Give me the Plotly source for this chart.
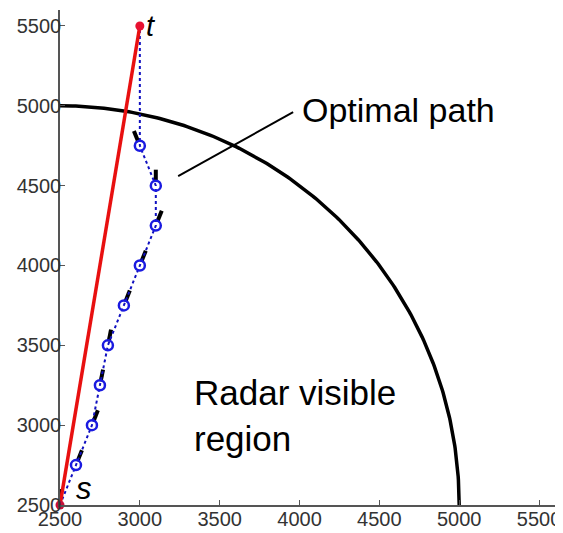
import numpy as np
import plotly.graph_objects as go

# Data
path_x = [2500, 2600, 2700, 2750, 2800, 2900, 3000, 3100, 3100, 3000, 3000]
path_y = [2500, 2750, 3000, 3250, 3500, 3750, 4000, 4250, 4500, 4750, 5500]
direct_x = [2500, 3000]
direct_y = [2500, 5500]
radar_center = (2500, 2500)
radar_radius = 2500
tick_vals = [2500, 3000, 3500, 4000, 4500, 5000, 5500]

fig = go.Figure()

# radar arc
th = np.linspace(0, np.pi / 2, 200)
fig.add_trace(go.Scatter(x=radar_center[0] + radar_radius * np.cos(th),
                         y=radar_center[1] + radar_radius * np.sin(th),
                         mode="lines", line=dict(color="black", width=3.5),
                         hoverinfo="skip"))

# heading ticks (incoming direction at each waypoint)
hx, hy = [], []
for i in range(len(path_x) - 1):
    if i == 0:
        dx, dy = 0.05, 1.0
    else:
        dx, dy = path_x[i] - path_x[i - 1], path_y[i] - path_y[i - 1]
    n = np.hypot(dx, dy)
    ux, uy = dx / n, dy / n
    a, b = (25, 100) if i > 0 else (40, 100)
    hx += [path_x[i] + a * ux, path_x[i] + b * ux, None]
    hy += [path_y[i] + a * uy, path_y[i] + b * uy, None]
fig.add_trace(go.Scatter(x=hx, y=hy, mode="lines",
                         line=dict(color="black", width=4), hoverinfo="skip"))

# optimal path (dotted blue)
fig.add_trace(go.Scatter(x=path_x, y=path_y, mode="lines",
                         line=dict(color="#1010c0", width=2, dash="dot"),
                         hoverinfo="skip"))
fig.add_trace(go.Scatter(x=path_x[1:-1], y=path_y[1:-1], mode="markers",
                         marker=dict(symbol="circle-open", size=10, color="#1a1ae0",
                                     line=dict(color="#1a1ae0", width=2.5)),
                         hoverinfo="skip"))

# direct path (red)
fig.add_trace(go.Scatter(x=direct_x, y=direct_y, mode="lines+markers",
                         line=dict(color="#e81010", width=3.5),
                         marker=dict(color=["#c8103a", "#e81030"], size=9),
                         cliponaxis=False, hoverinfo="skip"))

fig.add_annotation(x=direct_x[1], y=direct_y[1], text="<i>t</i>", showarrow=False,
                   xanchor="left", yanchor="middle", xshift=4,
                   font=dict(family="Arial", size=29, color="black"))
fig.add_annotation(x=direct_x[0], y=direct_y[0], text="<i>s</i>", showarrow=False,
                   xanchor="left", yanchor="bottom", xshift=14, yshift=-3,
                   font=dict(family="Arial", size=31, color="black"))

# pointer line & label
fig.add_shape(type="line", x0=3240, y0=4560, x1=3960, y1=4960,
              line=dict(color="black", width=2))
fig.add_annotation(x=4000, y=4975, text="Optimal path", showarrow=False,
                   xanchor="left", yanchor="middle",
                   font=dict(family="Arial", size=34, color="black"))
fig.add_annotation(x=3325, y=3060, text="Radar visible<br>region", showarrow=False,
                   xanchor="left", yanchor="middle", align="left",
                   font=dict(family="Arial", size=35, color="black"))

axis_common = dict(range=[2500, 5600], tickvals=tick_vals, ticks="inside",
                   ticklen=5, tickcolor="#555", showline=True, linecolor="#555",
                   linewidth=1.5, showgrid=False, zeroline=False, automargin=False,
                   tickfont=dict(family="Arial", size=20, color="#333"))
fig.update_xaxes(**axis_common, ticklabelstandoff=-5)
fig.update_yaxes(**axis_common, ticklabelstandoff=-7)
# page body has an 8px default margin; extra right/bottom margin falls off-window
fig.update_layout(width=563, height=533, showlegend=False,
                  plot_bgcolor="white", paper_bgcolor="white",
                  margin=dict(l=52, r=16, t=2, b=36))
fig.write_html("out.html")
